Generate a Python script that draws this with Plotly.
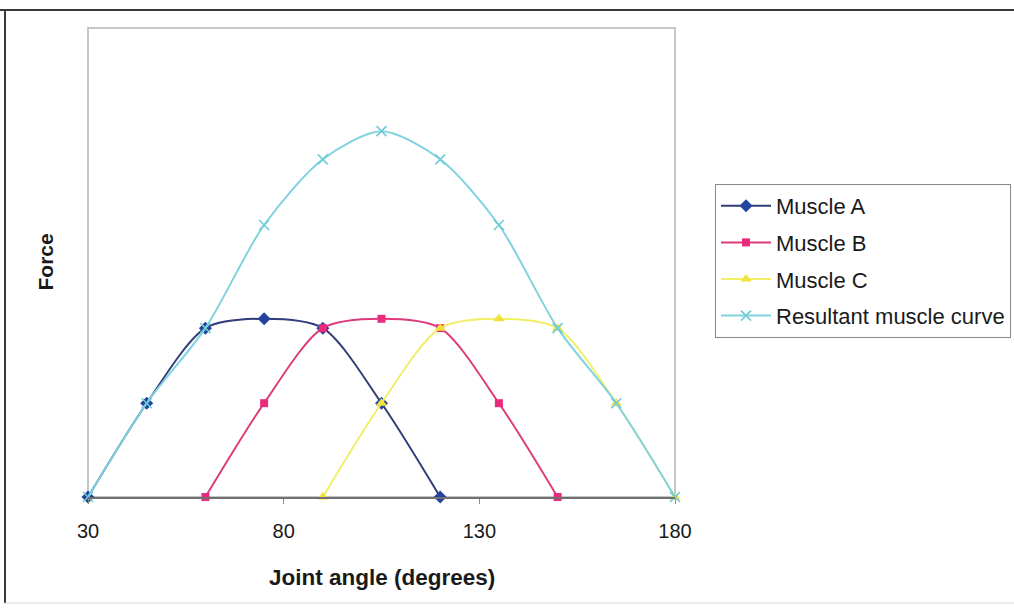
import plotly.graph_objects as go

# Joint angles (degrees) at which each force value was sampled
muscle_a_angles = [30, 45, 60, 75, 90, 105, 120]
muscle_b_angles = [60, 75, 90, 105, 120, 135, 150]
muscle_c_angles = [90, 105, 120, 135, 150, 165, 180]
resultant_angles = [30, 45, 60, 75, 90, 105, 120, 135, 150, 165, 180]

# Force values (arbitrary units)
muscle_a_force = [0, 1.0, 1.8, 1.9, 1.8, 1.0, 0]
muscle_b_force = [0, 1.0, 1.8, 1.9, 1.8, 1.0, 0]
muscle_c_force = [0, 1.0, 1.8, 1.9, 1.8, 1.0, 0]
resultant_force = [0, 1.0, 1.8, 2.9, 3.6, 3.9, 3.6, 2.9, 1.8, 1.0, 0]

x_tick_values = [30, 80, 130, 180]

FONT = "Arial, Liberation Sans, sans-serif"

# plot area geometry in pixels
W, H = 1014, 608
L, R, T, B = 88, 675, 28, 497
pw, ph = R - L, B - T


def px_x(px):
    return (px - L) / pw


def px_y(py):
    return (B - py) / ph


fig = go.Figure()

series = [
    ("Muscle A", muscle_a_angles, muscle_a_force, "#2f3d78", "#23439c", "diamond", 10),
    ("Muscle B", muscle_b_angles, muscle_b_force, "#dc3a7c", "#ea2a7c", "square", 8),
    ("Muscle C", muscle_c_angles, muscle_c_force, "#f0ef66", "#f0e43a", "triangle-up", 10),
]
for i, (name, xs, ys, lc, mc, sym, size) in enumerate(series):
    fig.add_trace(go.Scatter(
        x=xs, y=ys, name=name, mode="lines+markers",
        line=dict(color=lc, width=2, shape="spline", smoothing=0.8),
        marker=dict(symbol=sym, size=size, color=mc),
        cliponaxis=False, legendgroup=f"g{i}",
    ))

fig.add_trace(go.Scatter(
    x=resultant_angles, y=resultant_force, name="Resultant muscle curve",
    mode="lines+markers",
    line=dict(color="#7fd3df", width=2, shape="spline", smoothing=0.8),
    marker=dict(symbol="x-thin", size=10, color="#6fcbd8",
                line=dict(color="#6fcbd8", width=1.6)),
    cliponaxis=False, legendgroup="g3",
))

shapes = [
    # outer frame
    dict(type="line", xref="paper", yref="paper", x0=px_x(0), x1=px_x(W + 10),
         y0=px_y(10), y1=px_y(10), line=dict(color="#3a3a3a", width=2)),
    dict(type="line", xref="paper", yref="paper", x0=px_x(5), x1=px_x(5),
         y0=px_y(10), y1=px_y(603), line=dict(color="#3a3a3a", width=2)),
    dict(type="line", xref="paper", yref="paper", x0=px_x(5), x1=px_x(W + 10),
         y0=px_y(603), y1=px_y(603), line=dict(color="#d8d8d8", width=1)),
    # plot area border
    dict(type="rect", xref="paper", yref="paper", x0=0, x1=1, y0=0, y1=1,
         line=dict(color="#b4b4b4", width=1.5), layer="below"),
]

annotations = [
    dict(text="<b>Joint angle (degrees)</b>", xref="paper", yref="paper",
         x=0.5, y=px_y(577), xanchor="center", yanchor="middle", showarrow=False,
         font=dict(family=FONT, size=22.5, color="#1a1a1a")),
    dict(text="<b>Force</b>", xref="paper", yref="paper",
         x=px_x(45), y=0.5, xanchor="center", yanchor="middle", showarrow=False,
         textangle=-90, font=dict(family=FONT, size=21, color="#1a1a1a")),
]

fig.update_layout(
    width=W, height=H,
    margin=dict(l=L, r=W - R, t=T, b=H - B, pad=0, autoexpand=False),
    paper_bgcolor="white", plot_bgcolor="white",
    font=dict(family=FONT, color="#1a1a1a"),
    showlegend=True,
    legend=dict(
        x=px_x(715), y=px_y(184), xanchor="left", yanchor="top",
        bordercolor="#8a8a8a", borderwidth=1, bgcolor="white",
        font=dict(family=FONT, size=22, color="#1a1a1a"),
        tracegroupgap=5, itemwidth=50,
    ),
    xaxis=dict(
        range=[30, 180], tickvals=x_tick_values, showgrid=False, zeroline=False,
        showline=True, linecolor="#707070", linewidth=1.5,
        ticks="outside", ticklen=5, tickcolor="#8a8a8a",
        tickfont=dict(family=FONT, size=20, color="#1a1a1a"),
        ticklabelstandoff=10,
    ),
    yaxis=dict(
        range=[0, 5], showgrid=False, zeroline=False, showticklabels=False,
        ticks="", showline=False,
    ),
    shapes=shapes, annotations=annotations,
)

fig.write_html("out.html")
